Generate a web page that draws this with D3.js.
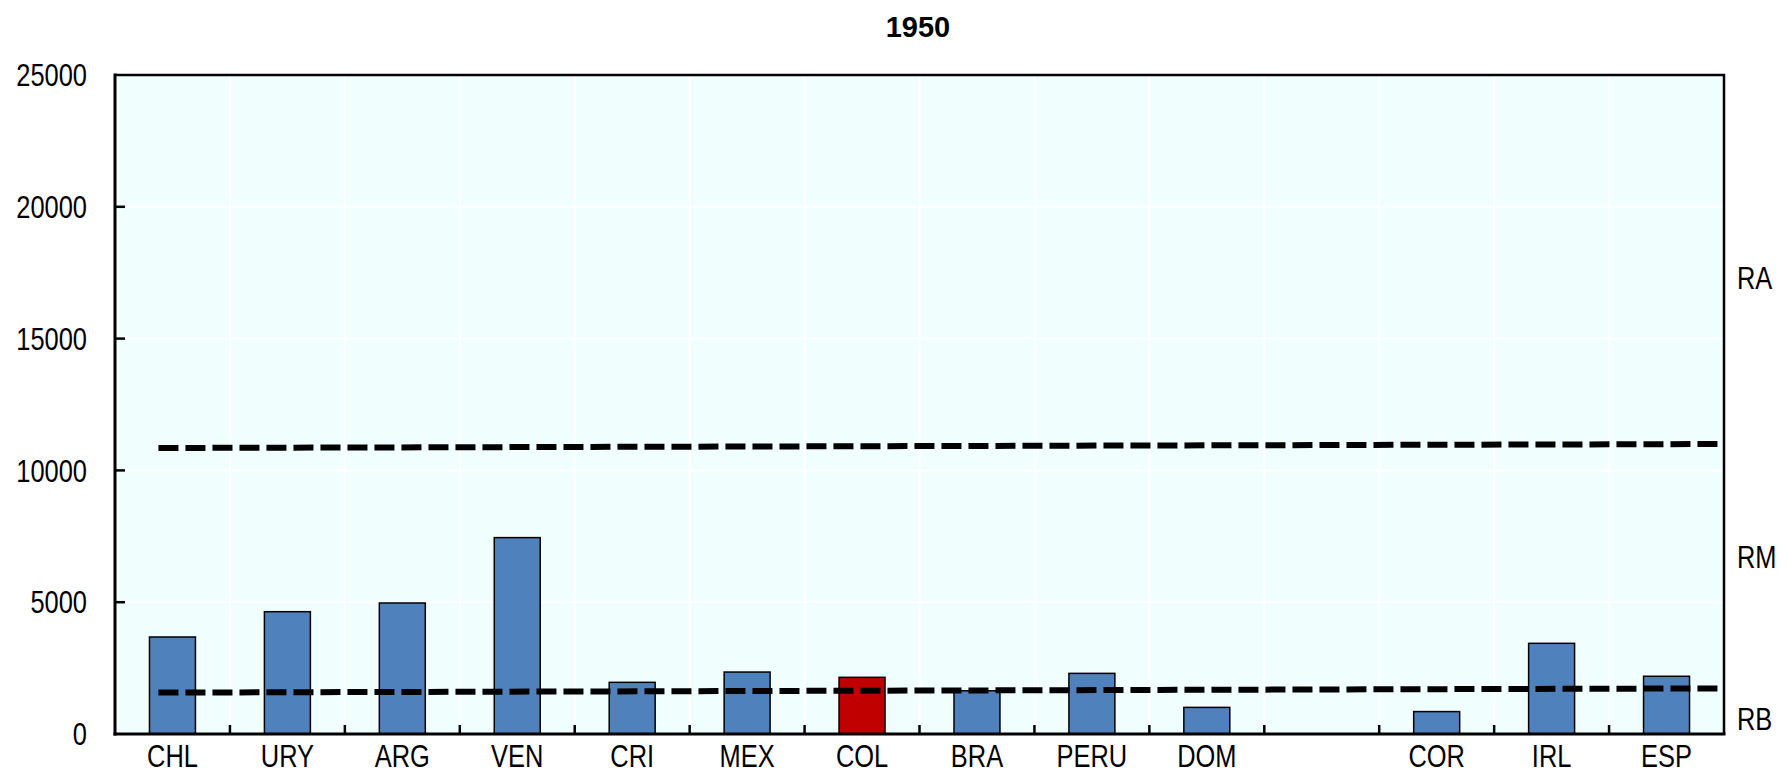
<!DOCTYPE html>
<html>
<head>
<meta charset="utf-8">
<script src="https://cdn.jsdelivr.net/npm/d3@7"></script>
<style>
  html, body { margin: 0; padding: 0; background: #fff; }
  svg { display: block; }
  .lbl { font-family: "Liberation Sans Narrow", "Arial Narrow", "Liberation Sans", Arial, sans-serif; font-size: 31px; fill: #000; }
  .title { font-family: "Liberation Sans", Arial, sans-serif; font-size: 29px; font-weight: bold; }
</style>
</head>
<body>
<svg width="1786" height="773"></svg>
<script>
// chart data
const countries = ['CHL', 'URY', 'ARG', 'VEN', 'CRI', 'MEX', 'COL', 'BRA', 'PERU', 'DOM', '', 'COR', 'IRL', 'ESP'];
const gdp1950 = [3680, 4640, 4970, 7450, 1960, 2350, 2150, 1640, 2300, 1010, null, 850, 3440, 2190];
const highlight = 'COL';
const upperLimit = [10850, 11000];   // RA / RM boundary, start and end
const lowerLimit = [1570, 1730];     // RM / RB boundary, start and end
const yTicks = [0, 5000, 10000, 15000, 20000, 25000];
const zoneLabels = ['RA', 'RM', 'RB'];
const chartTitle = '1950';

const svg = d3.select('svg'),
    width = +svg.attr('width'),
    height = +svg.attr('height');

const margin = {top: 75, right: 62, bottom: 39, left: 115};
const w = width - margin.left - margin.right,
    h = height - margin.top - margin.bottom;

const x = d3.scaleBand()
    .domain(d3.range(countries.length))
    .range([0, w])
    .paddingInner(0.6)
    .paddingOuter(0.3);

const y = d3.scaleLinear()
    .domain([0, 25000])
    .range([h, 0]);

const g = svg.append('g')
    .attr('transform', `translate(${margin.left},${margin.top})`);

// plot background
g.append('rect')
    .attr('width', w)
    .attr('height', h)
    .attr('fill', '#f1fefe');

// grid: white lines at band edges and y ticks
const step = x.step();
g.append('g')
  .selectAll('line')
  .data(d3.range(1, countries.length))
  .enter().append('line')
    .attr('x1', d => d * step).attr('x2', d => d * step)
    .attr('y1', 0).attr('y2', h)
    .attr('stroke', '#fff').attr('stroke-width', 2);

g.append('g')
  .selectAll('line')
  .data(yTicks.slice(1, -1))
  .enter().append('line')
    .attr('x1', 0).attr('x2', w)
    .attr('y1', d => y(d)).attr('y2', d => y(d))
    .attr('stroke', '#fff').attr('stroke-width', 2);

// bars
g.append('g')
  .selectAll('rect')
  .data(gdp1950.map((v, i) => ({i, v, name: countries[i]})).filter(d => d.v != null))
  .enter().append('rect')
    .attr('x', d => x(d.i))
    .attr('y', d => y(d.v))
    .attr('width', x.bandwidth())
    .attr('height', d => h - y(d.v))
    .attr('fill', d => d.name === highlight ? '#c00000' : '#4f81bd')
    .attr('stroke', '#000')
    .attr('stroke-width', 1.5);

// dashed limit lines
const lx = d3.scaleLinear()
    .domain([0, 1])
    .range([x(0) + x.bandwidth() / 2 - 14, w]);

const line = d3.line()
    .x((d, i) => lx(i))
    .y(d => y(d));

[upperLimit, lowerLimit].forEach(lim => {
  g.append('path')
      .datum(lim)
      .attr('d', line)
      .attr('fill', 'none')
      .attr('stroke', '#000')
      .attr('stroke-width', 6)
      .attr('stroke-dasharray', '20,7');
});

// frame: top and right
g.append('path')
    .attr('d', `M0,0H${w}V${h}`)
    .attr('fill', 'none')
    .attr('stroke', '#000')
    .attr('stroke-width', 2.5);

// x axis
const xAxis = g.append('g')
    .attr('transform', `translate(0,${h})`);
xAxis.append('line')
    .attr('x1', -1.5).attr('x2', w + 1.5)
    .attr('stroke', '#000').attr('stroke-width', 3);
xAxis.selectAll('.tick')
  .data(d3.range(1, countries.length))
  .enter().append('line')
    .attr('x1', d => d * step).attr('x2', d => d * step)
    .attr('y1', 0).attr('y2', -9)
    .attr('stroke', '#000').attr('stroke-width', 2.5);
xAxis.selectAll('text')
  .data(countries)
  .enter().append('text')
    .attr('class', 'lbl')
    .attr('x', (d, i) => x(i) + x.bandwidth() / 2)
    .attr('y', 33)
    .attr('text-anchor', 'middle')
    .text(d => d);

// y axis
const yAxis = g.append('g');
yAxis.append('line')
    .attr('y1', -1.5).attr('y2', h + 1.5)
    .attr('stroke', '#000').attr('stroke-width', 3);
yAxis.selectAll('.tk')
  .data(yTicks.slice(1, -1))
  .enter().append('line')
    .attr('x1', 0).attr('x2', 10)
    .attr('y1', d => y(d)).attr('y2', d => y(d))
    .attr('stroke', '#000').attr('stroke-width', 2.5);
yAxis.selectAll('text')
  .data(yTicks)
  .enter().append('text')
    .attr('class', 'lbl')
    .attr('x', -28)
    .attr('y', d => y(d))
    .attr('dy', '0.36em')
    .attr('text-anchor', 'end')
    .text(d => d);

// zone labels on the right
g.append('g')
  .selectAll('text')
  .data(zoneLabels)
  .enter().append('text')
    .attr('class', 'lbl')
    .attr('x', w + 13)
    .attr('y', (d, i) => [289, 568, 730][i] - margin.top)
    .text(d => d);

svg.append('text')
    .attr('class', 'title')
    .attr('x', 918)
    .attr('y', 37)
    .attr('text-anchor', 'middle')
    .text(chartTitle);

// squeeze labels if no narrow face is installed
const ctx = document.createElement('canvas').getContext('2d');
ctx.font = '40px "Liberation Sans Narrow", monospace';
const a = ctx.measureText('CHL 25000').width;
ctx.font = '40px monospace';
const b = ctx.measureText('CHL 25000').width;
if (a === b) {
  svg.selectAll('.lbl').each(function() {
    const len = this.getComputedTextLength();
    if (len > 0) {
      d3.select(this)
          .attr('textLength', len * 0.82)
          .attr('lengthAdjust', 'spacingAndGlyphs');
    }
  });
}
</script>
</body>
</html>
